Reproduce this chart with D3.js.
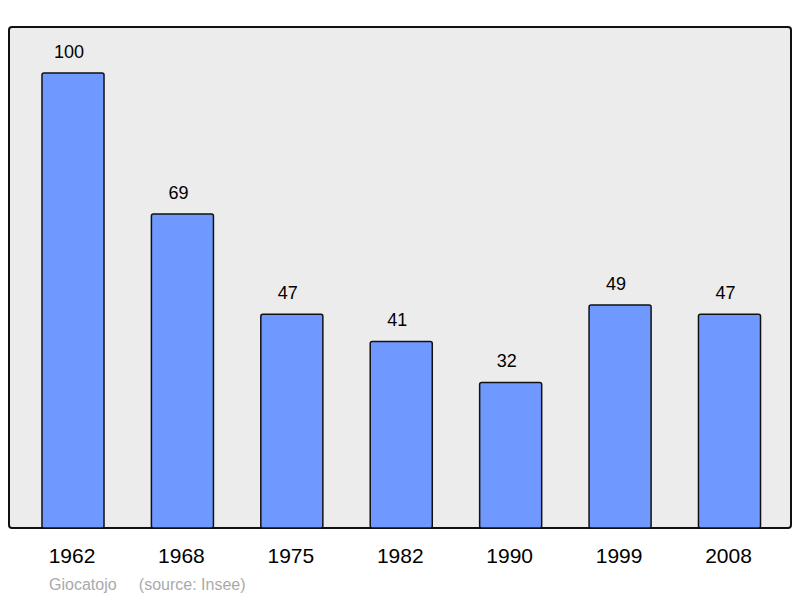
<!DOCTYPE html>
<html><head><meta charset="utf-8">
<script src="https://cdn.jsdelivr.net/npm/d3@7"></script>
<style>body{margin:0;background:#fff}</style>
</head><body>
<div id="chart"></div>
<script>
var years = ["1962", "1968", "1975", "1982", "1990", "1999", "2008"];
var population = [100, 69, 47, 41, 32, 49, 47];

var svg = d3.select("#chart").append("svg")
	.attr("width", 800)
	.attr("height", 598);

// background panel
svg.append("rect")
	.attr("x", 9).attr("y", 27)
	.attr("width", 782).attr("height", 501)
	.attr("rx", 3)
	.attr("fill", "#ececec")
	.attr("stroke", "#111")
	.attr("stroke-width", 2);

var x = d3.scaleBand()
	.domain(years)
	.range([18.3, 784.2])
	.paddingInner(0.433)
	.paddingOuter(0.2165);

var y = d3.scaleLinear()
	.domain([0, 100])
	.range([528, 73]);

svg.selectAll(".bar")
	.data(population)
	.enter()
	.append("rect")
	.attr("class", "bar")
	.attr("x", (d, i) => x(years[i]))
	.attr("y", d => y(d))
	.attr("width", x.bandwidth())
	.attr("height", d => y(0) - y(d))
	.attr("rx", 2)
	.attr("fill", "#7099ff")
	.attr("stroke", "#111")
	.attr("stroke-width", 1.5);

svg.selectAll(".val")
	.data(population)
	.enter()
	.append("text")
	.attr("x", (d, i) => x(years[i]) + x.bandwidth() / 2 - 4)
	.attr("y", d => y(d) - 15)
	.attr("text-anchor", "middle")
	.attr("font-family", "Liberation Sans, Arial, sans-serif")
	.attr("font-size", 18)
	.text(d => d);

svg.selectAll(".yr")
	.data(years)
	.enter()
	.append("text")
	.attr("x", d => x(d) + x.bandwidth() / 2 - 1)
	.attr("y", 563)
	.attr("text-anchor", "middle")
	.attr("font-family", "Liberation Sans, Arial, sans-serif")
	.attr("font-size", 21)
	.text(d => d);

svg.append("text")
	.attr("x", 49).attr("y", 590)
	.attr("font-family", "Liberation Sans, Arial, sans-serif")
	.attr("font-size", 16)
	.attr("fill", "#aaa")
	.attr("xml:space", "preserve")
	.style("white-space", "pre")
	.text("Giocatojo     (source: Insee)");
</script>
</body></html>
